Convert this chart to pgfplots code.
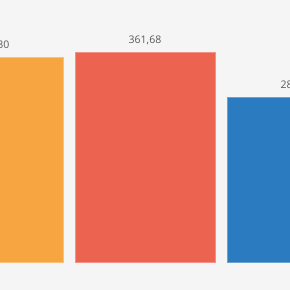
\documentclass[border=0pt]{standalone}
\usepackage{pgfplots}
\pgfplotsset{compat=1.18}
\usepackage{fontspec}
\setmainfont{Open Sans}
\definecolor{bg}{HTML}{F5F5F5}
\definecolor{corange}{HTML}{F7A541}
\definecolor{cred}{HTML}{EC6350}
\definecolor{cblue}{HTML}{2A7BC0}
\definecolor{lbl}{HTML}{595959}
\begin{document}
\begin{tikzpicture}
\fill[bg] (0,0) rectangle (290pt,290pt);
\begin{axis}[
  at={(0,0)}, anchor=south west,
  scale only axis, width=290pt, height=290pt,
  hide axis,
  xmin=0.04605, xmax=1.9539,
  ymin=-48.2, ymax=451.2,
  ybar, bar width=0.921, bar shift=0pt,
  nodes near coords,
  nodes near coords style={font=\fontsize{10.5}{12}\selectfont, text=lbl, anchor=south, yshift=3pt,
    /pgf/number format/.cd, fixed, fixed zerofill, precision=2, use comma, 1000 sep={}, assume math mode=true},
  clip=false,
]
\addplot[fill=corange, draw=corange!70!white, line width=0.6pt] coordinates {(0,353.30)};
\addplot[fill=cred, draw=cred!70!white, line width=0.6pt] coordinates {(1,361.68)};
\addplot[fill=cblue, draw=cblue!70!white, line width=0.6pt] coordinates {(2,284.20)};
\end{axis}
\pgfresetboundingbox
\path (0,0) rectangle (290pt,290pt);
\end{tikzpicture}
\end{document}
